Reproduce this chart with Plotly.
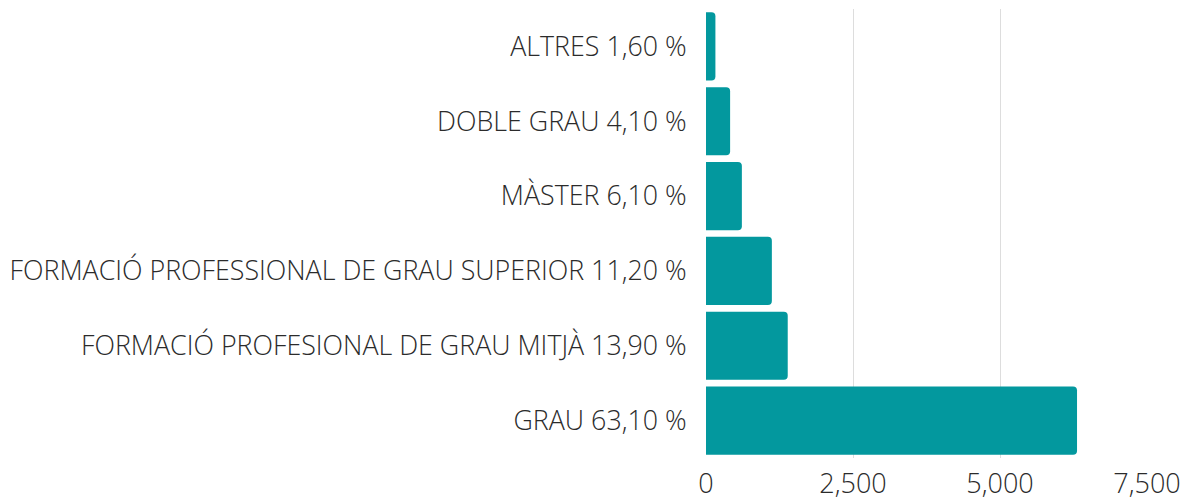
import plotly.graph_objects as go

categories = [
    "GRAU 63,10 %",
    "FORMACIÓ PROFESIONAL DE GRAU MITJÀ 13,90 %",
    "FORMACIÓ PROFESSIONAL DE GRAU SUPERIOR 11,20 %",
    "MÀSTER 6,10 %",
    "DOBLE GRAU 4,10 %",
    "ALTRES 1,60 %",
]
values = [6310, 1390, 1120, 610, 410, 160]
x_ticks = [0, 2500, 5000, 7500]
x_tick_labels = ["0", "2,500", "5,000", "7,500"]

font_family = "Open Sans"

fig = go.Figure(
    go.Bar(
        x=values,
        y=categories,
        orientation="h",
        marker=dict(color="#03989E", cornerradius=4, line=dict(width=0)),
        hoverinfo="x+y",
    )
)

fig.update_layout(
    width=1181,
    height=489,
    margin=dict(l=698, r=42, t=1, b=39, autoexpand=False),
    paper_bgcolor="white",
    plot_bgcolor="white",
    bargap=0.09,
    showlegend=False,
    font=dict(family=font_family, size=27, color="#2b2b2b", weight=300),
    xaxis=dict(
        range=[0, 7500],
        tickvals=x_ticks,
        ticktext=x_tick_labels,
        showgrid=True,
        gridcolor="#dddddd",
        gridwidth=1,
        zeroline=False,
        showline=False,
        ticks="outside",
        ticklen=2,
        tickcolor="rgba(0,0,0,0)",
        tickfont=dict(family=font_family, size=27, color="#2b2b2b", weight=300),
        fixedrange=True,
    ),
    yaxis=dict(
        showgrid=False,
        zeroline=False,
        showline=False,
        ticks="outside",
        ticklen=13,
        tickcolor="rgba(0,0,0,0)",
        tickfont=dict(family=font_family, size=26.8, color="#2b2b2b", weight=300),
        fixedrange=True,
    ),
)

fig.write_html("out.html")
